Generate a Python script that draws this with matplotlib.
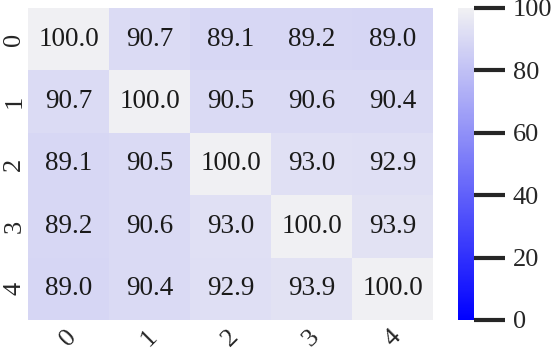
import numpy as np
import matplotlib
matplotlib.use("Agg")
import matplotlib.pyplot as plt
import seaborn as sns

labels = ["0", "1", "2", "3", "4"]
row0 = [100.0, 90.7, 89.1, 89.2, 89.0]
row1 = [90.7, 100.0, 90.5, 90.6, 90.4]
row2 = [89.1, 90.5, 100.0, 93.0, 92.9]
row3 = [89.2, 90.6, 93.0, 100.0, 93.9]
row4 = [89.0, 90.4, 92.9, 93.9, 100.0]
cbar_ticks = [0, 20, 40, 60, 80, 100]

sns.set_theme(style="white")
plt.rcParams['font.family'] = ['Liberation Serif', 'DejaVu Serif']

data = np.array([row0, row1, row2, row3, row4])
cmap = sns.light_palette("blue", as_cmap=True, reverse=True)

fig = plt.figure(figsize=(5.53, 3.52), dpi=100)
ax = fig.add_axes([28/553, 32/352, 405/553, 312/352])
cax = fig.add_axes([458/553, 32/352, 16/553, 312/352])

sns.heatmap(data, ax=ax, cbar_ax=cax, cmap=cmap, vmin=0, vmax=100,
            annot=True, fmt=".1f", annot_kws={"size": 19.5, "color": "#1a1a1a"},
            xticklabels=labels, yticklabels=labels)

ax.tick_params(axis='x', labelsize=19, length=0, pad=4)
ax.tick_params(axis='y', labelsize=19, length=0, pad=2)
for t in ax.get_xticklabels():
    t.set_rotation(45)
    t.set_ha('center')
for t in ax.get_yticklabels():
    t.set_rotation(90)
    t.set_va('center')

cax.set_yticks(cbar_ticks)
cax.tick_params(labelsize=19, length=22, width=3, color="#262626", pad=6)
for sp in cax.spines.values():
    sp.set_visible(False)

fig.savefig("out.png", dpi=100)
